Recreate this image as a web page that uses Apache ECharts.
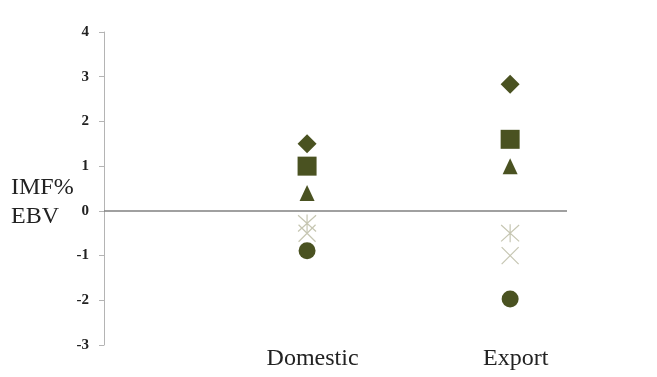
<!DOCTYPE html>
<html><head><meta charset="utf-8">
<script src="https://cdn.jsdelivr.net/npm/echarts@6/dist/echarts.min.js"></script>
<style>html,body{margin:0;padding:0;background:#fff;}#c{width:657px;height:377px;}</style>
</head><body><div id="c"></div>
<script>
const categories = ['Domestic', 'Export'];
const yTicks = [-3, -2, -1, 0, 1, 2, 3, 4];
const diamondVals = [1.5, 2.83];
const squareVals = [1.0, 1.6];
const triangleVals = [0.4, 1.0];
const starVals = [-0.28, -0.5];
const crossVals = [-0.5, -1.0];
const circleVals = [-0.89, -1.97];

const dark = '#4a5221';
const light = '#c6c6b2';
const starPath = 'path://M0,-1.1L0,1.1M-1,-1L1,1M-1,1L1,-1';
const crossPath = 'path://M-1,-1L1,1M-1,1L1,-1';

function pts(vals) { return vals.map((v, i) => [i + 1, v]); }
function mk(name, vals, symbol, size, filled, extra) {
  const s = {
    name, type: 'scatter', data: pts(vals), symbol, symbolSize: size,
    itemStyle: filled ? { color: dark, opacity: 1 } : { color: 'none', borderColor: light, borderWidth: 1.2, opacity: 1 },
    emphasis: { disabled: true }
  };
  return Object.assign(s, extra || {});
}

const chart = echarts.init(document.getElementById('c'));
chart.setOption({
  animation: false,
  title: {
    text: 'IMF%\nEBV', left: 6, top: 168,
    textStyle: { fontFamily: 'Liberation Serif', fontWeight: 'normal', fontSize: 24, lineHeight: 29, color: '#222' }
  },
  grid: { left: 104, right: 90, top: 32, bottom: 32 },
  xAxis: {
    type: 'value', min: 0, max: 2.28, interval: 1,
    axisLine: { show: false, onZero: false }, axisTick: { show: false }, splitLine: { show: false },
    axisLabel: {
      margin: 2, padding: [0, 0, 0, 11],
      fontFamily: 'Liberation Serif', fontSize: 24, color: '#222',
      formatter: v => (Math.abs(v - Math.round(v)) < 1e-6 && v >= 1 && v <= categories.length) ? categories[Math.round(v) - 1] : ''
    }
  },
  yAxis: {
    type: 'value', min: yTicks[0], max: yTicks[yTicks.length - 1], interval: 1,
    axisLine: { show: true, lineStyle: { color: '#b4b4b4', width: 1 } },
    axisTick: { show: true, length: 5, lineStyle: { color: '#b4b4b4' } },
    splitLine: { show: false },
    axisLabel: { margin: 15, fontFamily: 'Liberation Serif', fontWeight: 'bold', fontSize: 15, color: '#222' }
  },
  series: [
    mk('diamond', diamondVals, 'diamond', 19, true, {
      markLine: {
        silent: true, symbol: 'none', label: { show: false },
        lineStyle: { color: '#808080', width: 1.5, type: 'solid' },
        data: [{ yAxis: 0 }]
      }
    }),
    mk('square', squareVals, 'rect', 19, true),
    mk('triangle', triangleVals, 'triangle', [15, 16], true),
    mk('star', starVals, starPath, 18, false),
    mk('cross', crossVals, crossPath, 17, false),
    mk('circle', circleVals, 'circle', 17, true)
  ]
});
</script></body></html>
